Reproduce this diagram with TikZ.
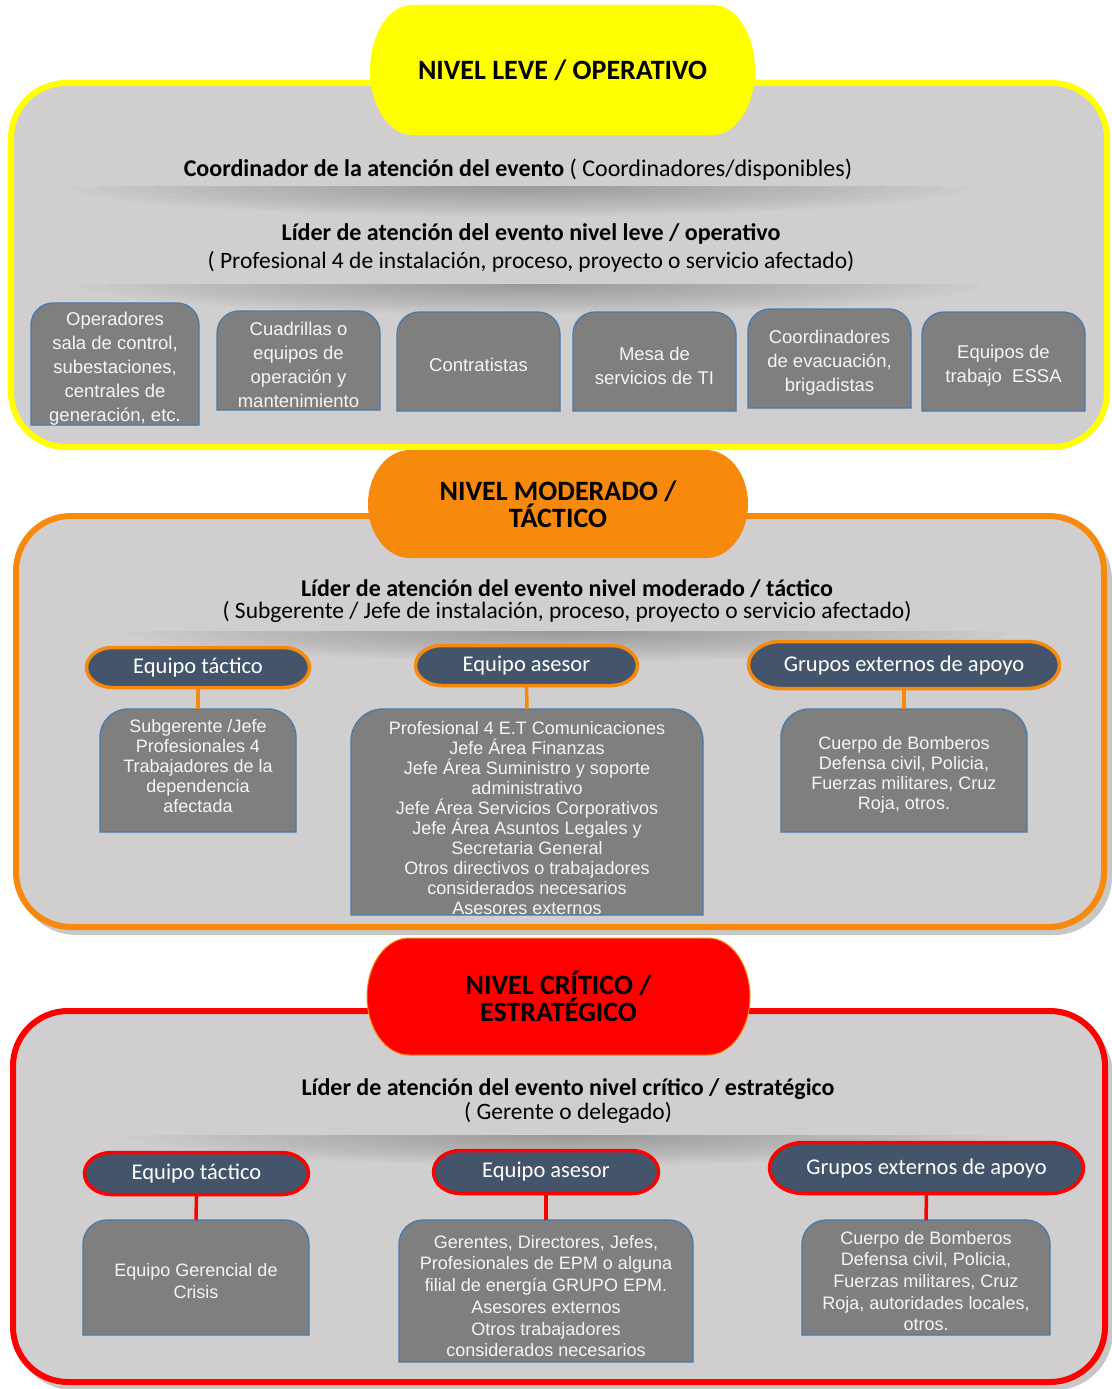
\documentclass[tikz,border=0pt]{standalone}
\usepackage{fontspec}
\setmainfont{Carlito}
\newfontfamily\arialf{Liberation Sans}
\usetikzlibrary{calc}
\pgfdeclarelayer{panels}
\pgfdeclarelayer{shapes}
\pgfsetlayers{panels,shapes,main}

\definecolor{panelgray}{HTML}{D0CECF}
\definecolor{boxfill}{HTML}{7F7F7F}
\definecolor{boxedge}{HTML}{4A7AAB}
\definecolor{pillfill}{HTML}{44546A}
\definecolor{lvlyellow}{HTML}{FFFF00}
\definecolor{lvlorange}{HTML}{F7890C}
\definecolor{lvlred}{HTML}{FF0000}

\tikzset{
  area/.style={rectangle, inner sep=0pt, outer sep=0pt},
  itembox/.style={fill=boxfill, draw=boxedge, line width=1.3pt},
  itemtext/.style={font=\arialf\fontsize{18}{20}\selectfont, text=white!96!black, align=center, inner sep=0pt},
  rowtext/.style={itemtext, font=\arialf\fontsize{18.5}{24}\selectfont},
  crittext/.style={itemtext, font=\arialf\fontsize{18}{21.7}\selectfont},
  teamtext/.style={font=\fontsize{22.5}{26}\selectfont, text=white},
  leveltext/.style={font=\bfseries\fontsize{28}{27}\selectfont, align=center},
  titletext/.style={font=\fontsize{24}{28}\selectfont, inner sep=0pt},
  headbold/.style={font=\bfseries\fontsize{24}{28}\selectfont, inner sep=0pt},
  headreg/.style={font=\fontsize{23.5}{28}\selectfont, inner sep=0pt},
  panel/.style={fill=panelgray, line width=6pt, rounded corners=55pt},
  panelshadow/.style={fill=black, fill opacity=0.22, rounded corners=58pt},
  orangepill/.style={fill=pillfill, draw=lvlorange, line width=3.5pt},
  redpill/.style={fill=pillfill, draw=lvlred, line width=3.5pt},
  link/.style={line width=3.5pt},
}

% box with rounded top corners and square bottom corners
\newcommand\itemshape[2]{%
  \begin{pgfonlayer}{shapes}
  \path[itembox] (#1.south west) -- ([yshift=-#2]#1.north west)
    arc[start angle=180, end angle=90, radius=#2]
    -- ([xshift=-#2]#1.north east)
    arc[start angle=90, end angle=0, radius=#2]
    -- (#1.south east) -- cycle;
  \end{pgfonlayer}}

% capsule with elliptical ends
\newcommand\pillshape[4]{%
  \begin{pgfonlayer}{shapes}
  \path[#4] ([xshift=#2]#1.north west) -- ([xshift=-#2]#1.north east)
    arc[start angle=90, end angle=-90, x radius=#2, y radius=#3]
    -- ([xshift=#2]#1.south west)
    arc[start angle=270, end angle=90, x radius=#2, y radius=#3] -- cycle;
  \end{pgfonlayer}}

% soft shadow below a heading: centre x, y, half width
\newcommand\softshadow[3]{%
  \begin{scope}
    \clip (#1-#3,#2) rectangle (#1+#3,#2+32);
    \foreach \k in {1,...,16}
      \fill[black, opacity=0.014] (#1,#2) ellipse[x radius=\k*#3/16*1pt, y radius=\k*1.9pt];
  \end{scope}}

\begin{document}
\begin{tikzpicture}[x=1pt, y=-1pt]
\useasboundingbox (0,0) rectangle (1111,1389);

\begin{pgfonlayer}{panels}
  \fill[white] (0,0) rectangle (1111,1389);
  \path[panelshadow] (18,522) rectangle (1112,935);
  \path[panelshadow] (15,1017) rectangle (1113,1390);
  \path[panel, draw=lvlyellow] (11,83) rectangle (1107,447);
  \path[panel, draw=lvlorange] (16,516) rectangle (1104,927);
  \path[panel, draw=lvlred] (13,1011) rectangle (1105,1382);
  \softshadow{520}{186}{450}
  \softshadow{530}{284}{450}
  \softshadow{567}{631}{440}
  \softshadow{568}{1135}{440}
\end{pgfonlayer}

% ---------------- leve / operativo ----------------
\node[area, leveltext, minimum width=385pt, minimum height=130pt] (lvA) at (562.5,70) {NIVEL LEVE / OPERATIVO};
\pillshape{lvA}{42pt}{65pt}{fill=lvlyellow}

\node[titletext] (coordA) at (518,170) {\textbf{Coordinador de la atención del evento} ( Coordinadores/disponibles)};
\node[headbold] (liderA) at (531,234) {Líder de atención del evento nivel leve / operativo};
\node[headreg] (perfA) at (531,262) {( Profesional 4 de instalación, proceso, proyecto o servicio afectado)};

\node[area, minimum width=168pt, minimum height=122pt] (a1) at (115,364) {};
\itemshape{a1}{22pt}
\node[rowtext] (a1t) at (115,369) {Operadores\\sala de control,\\subestaciones,\\centrales de\\generación, etc.};

\node[area, minimum width=163pt, minimum height=99pt] (a2) at (298.5,360.5) {};
\itemshape{a2}{22pt}
\node[rowtext] (a2t) at (298.5,365) {Cuadrillas o\\equipos de\\operación y\\mantenimiento};

\node[area, minimum width=163pt, minimum height=99pt] (a3) at (478.5,361.5) {};
\itemshape{a3}{22pt}
\node[rowtext] (a3t) at (478.5,365) {Contratistas};

\node[area, minimum width=163pt, minimum height=99pt] (a4) at (654.5,361.5) {};
\itemshape{a4}{22pt}
\node[rowtext] (a4t) at (654.5,366) {Mesa de\\servicios de TI};

\node[area, minimum width=163pt, minimum height=99pt] (a5) at (829.5,358.5) {};
\itemshape{a5}{22pt}
\node[rowtext] (a5t) at (829.5,363) {Coordinadores\\de evacuación,\\brigadistas};

\node[area, minimum width=163pt, minimum height=99pt] (a6) at (1003.5,361.5) {};
\itemshape{a6}{22pt}
\node[rowtext] (a6t) at (1003.5,366) {Equipos de\\trabajo~ ESSA};

% ---------------- moderado / tactico ----------------
\node[area, leveltext, minimum width=380pt, minimum height=108pt] (lvB) at (558,504) {NIVEL MODERADO /\\TÁCTICO};
\pillshape{lvB}{42pt}{54pt}{fill=lvlorange}

\node[headbold] (liderB) at (567,589) {Líder de atención del evento nivel moderado / táctico};
\node[headreg] (perfB) at (567,612) {( Subgerente / Jefe de instalación, proceso, proyecto o servicio afectado)};

\node[area, teamtext, minimum width=223pt, minimum height=40pt] (oT) at (198,667.5) {Equipo táctico};
\pillshape{oT}{26pt}{20pt}{orangepill}
\node[area, teamtext, minimum width=222pt, minimum height=40pt] (oA) at (526.5,665.5) {Equipo asesor};
\pillshape{oA}{26pt}{20pt}{orangepill}
\node[area, teamtext, minimum width=311pt, minimum height=47pt] (oG) at (904,665) {Grupos externos de apoyo};
\pillshape{oG}{32pt}{23.5pt}{orangepill}

\node[area, minimum width=196pt, minimum height=123pt] (oTb) at (198,770.5) {};
\itemshape{oTb}{28pt}
\node[itemtext] (oTbt) at (198,766) {Subgerente /Jefe\\Profesionales 4\\Trabajadores de la\\dependencia\\afectada};

\node[area, minimum width=352pt, minimum height=206pt] (oAb) at (527,812) {};
\itemshape{oAb}{32pt}
\node[itemtext] (oAbt) at (527,818) {Profesional 4 E.T Comunicaciones\\Jefe Área Finanzas\\Jefe Área Suministro y soporte\\administrativo\\Jefe Área Servicios Corporativos\\Jefe Área Asuntos Legales y\\Secretaria General\\Otros directivos o trabajadores\\considerados necesarios\\Asesores externos};

\node[area, minimum width=246pt, minimum height=123pt] (oGb) at (904,770.5) {};
\itemshape{oGb}{28pt}
\node[itemtext] (oGbt) at (904,775) {Cuerpo de Bomberos\\Defensa civil, Policia,\\Fuerzas militares, Cruz\\Roja, otros.};

\draw[link, lvlorange] (oT.south) -- (oTb.north);
\draw[link, lvlorange] (oA.south) -- (oAb.north);
\draw[link, lvlorange] (oG.south) -- (oGb.north);

% ---------------- critico / estrategico ----------------
\node[area, leveltext, minimum width=383pt, minimum height=117pt] (lvC) at (558.5,996.5) {NIVEL CRÍTICO /\\ESTRATÉGICO};
\pillshape{lvC}{42pt}{58.5pt}{fill=lvlred, draw=lvlorange, line width=1pt}

\node[headbold] (liderC) at (568,1089) {Líder de atención del evento nivel crítico / estratégico};
\node[headreg] (perfC) at (568,1113) {( Gerente o delegado)};

\node[area, teamtext, minimum width=224pt, minimum height=42pt] (rT) at (196.5,1173.5) {Equipo táctico};
\pillshape{rT}{27pt}{21pt}{redpill}
\node[area, teamtext, minimum width=225pt, minimum height=43pt] (rA) at (546,1172) {Equipo asesor};
\pillshape{rA}{27pt}{21.5pt}{redpill}
\node[area, teamtext, minimum width=314pt, minimum height=51pt] (rG) at (926.5,1168) {Grupos externos de apoyo};
\pillshape{rG}{34pt}{25.5pt}{redpill}

\node[area, minimum width=226pt, minimum height=115pt] (rTb) at (196,1277.5) {};
\itemshape{rTb}{24pt}
\node[crittext] (rTbt) at (196,1281) {Equipo Gerencial de\\Crisis};

\node[area, minimum width=294pt, minimum height=142pt] (rAb) at (546,1291) {};
\itemshape{rAb}{24pt}
\node[crittext] (rAbt) at (546,1296) {Gerentes, Directores, Jefes,\\Profesionales de EPM o alguna\\filial de energía GRUPO EPM.\\Asesores externos\\Otros trabajadores\\considerados necesarios};

\node[area, minimum width=248pt, minimum height=115pt] (rGb) at (926,1277.5) {};
\itemshape{rGb}{24pt}
\node[crittext] (rGbt) at (926,1281) {Cuerpo de Bomberos\\Defensa civil, Policia,\\Fuerzas militares, Cruz\\Roja, autoridades locales,\\otros.};

\draw[link, lvlred] (rT.south) -- (rTb.north);
\draw[link, lvlred] (rA.south) -- (rAb.north);
\draw[link, lvlred] (rG.south) -- (rGb.north);
\end{tikzpicture}
\end{document}
